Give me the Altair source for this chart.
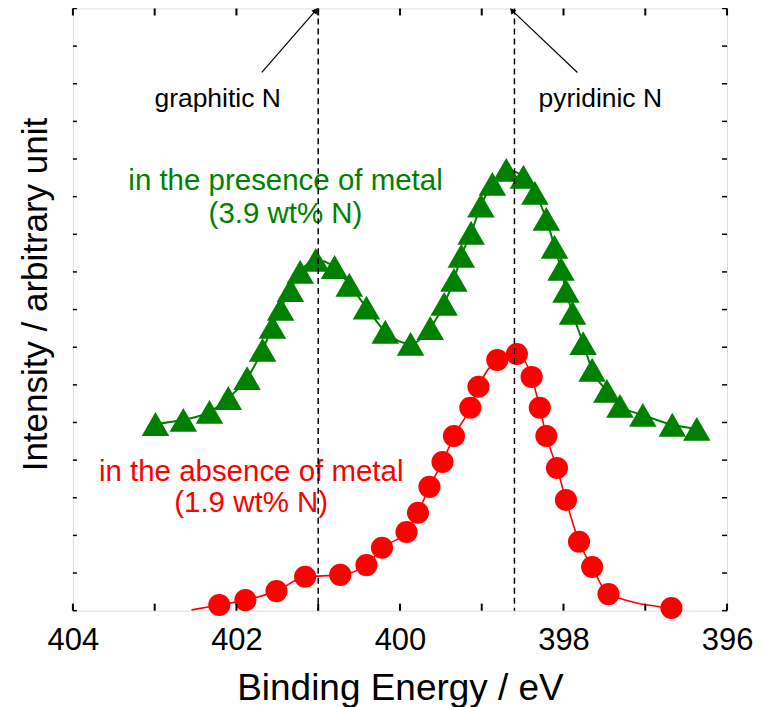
import altair as alt
import pandas as pd

# ---- data ----
# in the presence of metal (green triangles)
g_x = [402.99, 402.65, 402.33, 402.10, 401.87, 401.68, 401.56, 401.46, 401.34, 401.22,
       401.03, 400.80, 400.62, 400.41, 400.18, 399.87, 399.63, 399.46, 399.34, 399.25,
       399.13, 399.01, 398.87, 398.70, 398.49, 398.35, 398.21, 398.11, 398.03, 397.97,
       397.89, 397.76, 397.65, 397.47, 397.31, 397.03, 396.67, 396.37]
g_y = [4.96, 5.07, 5.28, 5.65, 6.18, 6.93, 7.54, 8.02, 8.52, 9.00,
       9.32, 9.13, 8.66, 8.05, 7.41, 7.09, 7.51, 8.15, 8.79, 9.43,
       10.04, 10.76, 11.34, 11.71, 11.53, 11.10, 10.41, 9.67, 9.08, 8.50,
       7.91, 7.11, 6.40, 5.84, 5.44, 5.20, 4.94, 4.83]

# in the absence of metal (red circles)
r_x = [402.21, 401.89, 401.51, 401.16, 400.73, 400.41, 400.22, 399.92, 399.78, 399.64,
       399.48, 399.34, 399.14, 399.04, 398.81, 398.57, 398.39, 398.29, 398.21, 398.08,
       397.97, 397.81, 397.65, 397.45, 396.68]
r_y = [0.15, 0.28, 0.52, 0.90, 0.95, 1.21, 1.67, 2.09, 2.60, 3.29,
       3.95, 4.64, 5.39, 5.95, 6.66, 6.82, 6.21, 5.39, 4.64, 3.79,
       2.94, 1.83, 1.16, 0.44, 0.07]
# start of the red fit curve (left of the first circle)
r_fit_start_x = [402.55]
r_fit_start_y = [0.02]

# reference lines
ref_x = [401.0, 398.6]
ref_labels = ["graphitic N", "pyridinic N"]
ref_label_x = [402.23, 397.55]
ref_label_y = [13.37, 13.37]
arrow_x = [401.69, 397.83]
arrow_y = [14.3, 14.3]
arrow_x2 = [401.03, 398.63]
arrow_y2 = [15.95, 15.95]
arrow_angle = [37, 318]

# series annotations
g_text = ["in the presence of metal", "(3.9 wt% N)"]
g_text_x = [401.40, 401.40]
g_text_y = [11.17, 10.29]
r_text = ["in the absence of metal", "(1.9 wt% N)"]
r_text_x = [401.82, 401.82]
r_text_y = [3.44, 2.61]

x_ticks = [404, 403, 402, 401, 400, 399, 398, 397, 396]
x_tick_labels = [404, 402, 400, 398, 396]
y_ticks = list(range(0, 17))

GREEN = "#008000"
RED = "#ff0000"
FONT = "Liberation Sans"
W, H = 655, 603

xscale = alt.Scale(domain=[396, 404], reverse=True, nice=False, zero=False)
yscale = alt.Scale(domain=[0, 16], nice=False, zero=True)

x_axis = alt.Axis(values=x_tick_labels, title="Binding Energy / eV", grid=False,
                  ticks=False, domain=False, labelFont=FONT, labelFontSize=31,
                  labelColor="black", labelPadding=15, labelFlush=False,
                  labelOverlap=False, format="d",
                  titleFont=FONT, titleFontSize=37, titleFontWeight="normal",
                  titleColor="black", titleY=89, titleBaseline="alphabetic")
y_axis = alt.Axis(title="Intensity / arbitrary unit", labels=False, ticks=False,
                  domain=False, grid=False, titleFont=FONT, titleFontSize=35,
                  titleFontWeight="normal", titleColor="black", titleAngle=270,
                  titleX=-26, titleY=286, titleAlign="center",
                  titleBaseline="alphabetic")


def X(f):
    return alt.X(f, type="quantitative", scale=xscale, axis=x_axis)


def Y(f):
    return alt.Y(f, type="quantitative", scale=yscale, axis=y_axis)


green = pd.DataFrame({"x": g_x, "y": g_y})
red = pd.DataFrame({"x": r_x, "y": r_y})
red_line = pd.DataFrame({"x": r_fit_start_x + r_x, "y": r_fit_start_y + r_y})

g_line = alt.Chart(green).mark_line(color=GREEN, strokeWidth=2, interpolate="monotone").encode(
    x=X("x"), y=Y("y"))
g_pts = alt.Chart(green).mark_point(shape="triangle-up", size=760, filled=True,
                                   color=GREEN, opacity=1).encode(x=X("x"), y=Y("y"))
r_line = alt.Chart(red_line).mark_line(color=RED, strokeWidth=1.6, interpolate="monotone").encode(
    x=X("x"), y=Y("y"))
r_pts = alt.Chart(red).mark_point(shape="circle", size=490, filled=True,
                                 color=RED, opacity=1).encode(x=X("x"), y=Y("y"))

gt = alt.Chart(pd.DataFrame({"x": g_text_x, "y": g_text_y, "t": g_text})).mark_text(
    font=FONT, fontSize=29.5, color=GREEN, align="center", baseline="alphabetic").encode(
    x=X("x"), y=Y("y"), text="t:N")
rt = alt.Chart(pd.DataFrame({"x": r_text_x, "y": r_text_y, "t": r_text})).mark_text(
    font=FONT, fontSize=29.5, color=RED, align="center", baseline="alphabetic").encode(
    x=X("x"), y=Y("y"), text="t:N")
lt = alt.Chart(pd.DataFrame({"x": ref_label_x, "y": ref_label_y, "t": ref_labels})).mark_text(
    font=FONT, fontSize=26.5, color="black", align="center", baseline="alphabetic").encode(
    x=X("x"), y=Y("y"), text="t:N")

dashes = alt.Chart(pd.DataFrame({"x": ref_x})).mark_rule(
    color="black", strokeWidth=1.5, strokeDash=[6, 4]).encode(x=X("x"))

arr = pd.DataFrame({"x": arrow_x, "y": arrow_y, "x2": arrow_x2, "y2": arrow_y2, "a": arrow_angle})
arrows = alt.Chart(arr).mark_rule(color="black", strokeWidth=1.2).encode(
    x=X("x"), y=Y("y"), x2="x2", y2="y2")
heads = alt.Chart(arr).mark_point(shape="triangle-up", size=45, filled=True, color="black",
                                  opacity=1).encode(
    x=X("x2"), y=Y("y2"), angle=alt.Angle("a:Q", scale=None))

xt = pd.DataFrame({"x": x_ticks})
xt_bot = alt.Chart(xt).mark_rule(color="black", strokeWidth=2).encode(
    x=X("x"), y=alt.value(H), y2=alt.value(H - 7))
xt_top = alt.Chart(xt).mark_rule(color="black", strokeWidth=2).encode(
    x=X("x"), y=alt.value(0), y2=alt.value(7))
yt = pd.DataFrame({"y": y_ticks})
yt_left = alt.Chart(yt).mark_rule(color="black", strokeWidth=1.5).encode(
    y=Y("y"), x=alt.value(0), x2=alt.value(4))
yt_right = alt.Chart(yt).mark_rule(color="black", strokeWidth=1.5).encode(
    y=Y("y"), x=alt.value(W), x2=alt.value(W - 5))

chart = alt.layer(
    g_line, r_line, g_pts, r_pts, gt, rt, lt, dashes, arrows, heads,
    xt_bot, xt_top, yt_left, yt_right
).properties(
    width=W, height=H,
    padding={"left": 65, "top": 0, "right": 30, "bottom": 96},
    autosize=alt.AutoSizeParams(type="none"),
).configure_view(stroke="black", strokeWidth=2).configure(background="white")

chart.save("out.html", embed_options={"renderer": "svg", "actions": False})
